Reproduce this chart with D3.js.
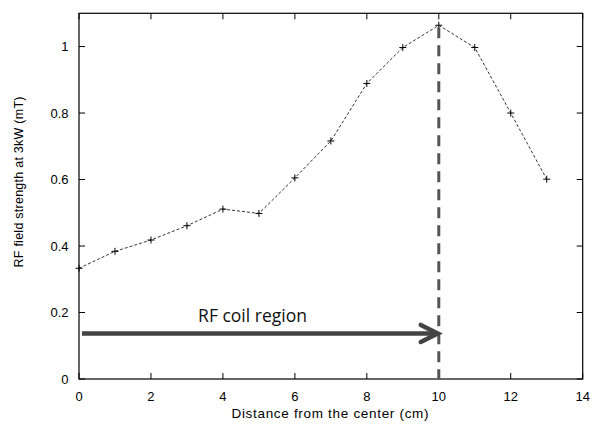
<!DOCTYPE html>
<html><head><meta charset="utf-8">
<script src="https://cdn.jsdelivr.net/npm/d3@7"></script>
<style>body{margin:0;background:#fff}svg{display:block}</style>
</head><body>
<script>
const distance = [0,1,2,3,4,5,6,7,8,9,10,11,12,13];
const field = [0.333,0.384,0.418,0.461,0.511,0.498,0.605,0.716,0.889,0.997,1.064,0.997,0.800,0.601];
const xTicks = [0,2,4,6,8,10,12,14];
const yTicks = [0,0.2,0.4,0.6,0.8,1];
const coilEdge = 10;
const coilLabel = "RF coil region";
const arrowLevel = 0.137;

const W=592,H=425;
const svg=d3.select("body").append("svg").attr("width",W).attr("height",H);
const x=d3.scaleLinear().domain([0,14]).range([79,582.7]);
const y=d3.scaleLinear().domain([0,1.1]).range([379,13.3]);
const font="'Liberation Sans', Arial, Helvetica, sans-serif";

// ticks (inside, mirrored)
const tk=svg.append("g").attr("stroke","#000").attr("stroke-width",1);
xTicks.forEach(t=>{
  tk.append("line").attr("x1",x(t)).attr("x2",x(t)).attr("y1",y(0)).attr("y2",y(0)-6);
  tk.append("line").attr("x1",x(t)).attr("x2",x(t)).attr("y1",y(1.1)).attr("y2",y(1.1)+6);
  svg.append("text").attr("x",x(t)).attr("y",401).attr("text-anchor","middle")
    .attr("font-family",font).attr("font-size",13).text(d3.format("d")(t));
});
yTicks.forEach(t=>{
  tk.append("line").attr("y1",y(t)).attr("y2",y(t)).attr("x1",x(0)).attr("x2",x(0)+6);
  tk.append("line").attr("y1",y(t)).attr("y2",y(t)).attr("x1",x(14)).attr("x2",x(14)-6);
  svg.append("text").attr("x",68.5).attr("y",y(t)+4.5).attr("text-anchor","end")
    .attr("font-family",font).attr("font-size",13).text(t===0?"0":(t===1?"1":d3.format(".1f")(t)));
});

// frame
svg.append("rect").attr("x",x(0)).attr("y",y(1.1)).attr("width",x(14)-x(0)).attr("height",y(0)-y(1.1))
  .attr("fill","none").attr("stroke","#000").attr("stroke-width",1.2);

// data line
const line=d3.line().x((d,i)=>x(distance[i])).y(d=>y(d));
svg.append("path").datum(field).attr("d",line).attr("fill","none").attr("stroke","#000")
  .attr("stroke-width",0.8).attr("stroke-dasharray","3,2");
svg.append("g").selectAll("path").data(field).join("path")
  .attr("d",(d,i)=>{const cx=x(distance[i]),cy=y(d);return `M${cx-3.5},${cy}H${cx+3.5}M${cx},${cy-3.5}V${cy+3.5}`;})
  .attr("stroke","#000").attr("stroke-width",1);

// vertical dashed line at coil edge
const peak=field[distance.indexOf(coilEdge)];
svg.append("line").attr("x1",x(coilEdge)).attr("x2",x(coilEdge)).attr("y1",y(peak)+2).attr("y2",y(0))
  .attr("stroke","#555").attr("stroke-width",3).attr("stroke-dasharray","11,7");

// arrow
const ay=y(arrowLevel);
svg.append("line").attr("x1",x(0)+3).attr("x2",x(coilEdge)-1).attr("y1",ay).attr("y2",ay)
  .attr("stroke","#444").attr("stroke-width",4.5);
svg.append("path").attr("d",`M${x(coilEdge)-18},${ay-8.5}L${x(coilEdge)-1},${ay}L${x(coilEdge)-18},${ay+8.5}`)
  .attr("fill","none").attr("stroke","#444").attr("stroke-width",4.5).attr("stroke-linecap","round").attr("stroke-linejoin","miter");
svg.append("text").attr("x",252.5).attr("y",322).attr("text-anchor","middle")
  .attr("font-family","'Open Sans', sans-serif").attr("font-size",17.5).attr("fill","#111").text(coilLabel);

// axis titles
svg.append("text").attr("x",330).attr("y",418).attr("text-anchor","middle")
  .attr("font-family",font).attr("font-size",13.5).attr("textLength",197).attr("lengthAdjust","spacing")
  .text("Distance from the center (cm)");
svg.append("text").attr("transform","translate(23,182) rotate(-90)").attr("text-anchor","middle")
  .attr("font-family",font).attr("font-size",12.5).attr("textLength",171).attr("lengthAdjust","spacing")
  .text("RF field strength at 3kW (mT)");
</script>
</body></html>
